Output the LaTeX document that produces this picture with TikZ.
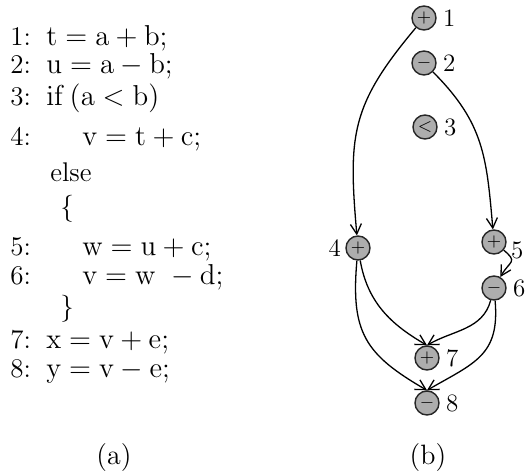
\documentclass[tikz,border=0pt]{standalone}
\usetikzlibrary{arrows.meta,positioning}

\begin{document}
\begin{tikzpicture}[x=0.5pt,y=0.5pt,
        code/.style={anchor=base west,inner sep=0pt,font=\fontsize{13.5}{16}\selectfont},
        op/.style={circle,draw=black!85,line width=0.7pt,fill=black!32,
          minimum size=12pt,inner sep=0pt,font=\small},
        num/.style={inner sep=0pt,font=\fontsize{12.5}{15}\selectfont},
        edge/.style={line width=0.65pt,-{Straight Barb[length=5pt,width=5.5pt]}}]
  \useasboundingbox (0,0) rectangle (525,-475);
  % (a) source code
  \node[code] (ln1) at (10,-46) {1:};   \node[code] (st1) at (46,-46) {$\mathrm{t=a+b;}$};
  \node[code] (ln2) at (10,-74) {2:};   \node[code] (st2) at (46,-74) {$\mathrm{u=a-b;}$};
  \node[code] (ln3) at (10,-106) {3:};  \node[code] (st3) at (46,-106) {$\mathrm{if}\,(\mathrm{a<b})$};
  \node[code] (ln4) at (10,-146) {4:};  \node[code] (st4) at (82,-146) {$\mathrm{v=t+c;}$};
  \node[code] (else) at (50,-182) {else};
  \node[code] (open) at (60,-216) {\{};
  \node[code] (ln5) at (10,-256) {5:};  \node[code] (st5) at (82,-256) {$\mathrm{w=u+c;}$};
  \node[code] (ln6) at (10,-285) {6:};  \node[code] (st6) at (82,-285) {$\mathrm{v=w\ -d;}$};
  \node[code] (close) at (60,-316) {\}};
  \node[code] (ln7) at (10,-349) {7:};  \node[code] (st7) at (46,-349) {$\mathrm{x=v+e;}$};
  \node[code] (ln8) at (10,-378) {8:};  \node[code] (st8) at (46,-378) {$\mathrm{y=v-e;}$};
  \node[font=\fontsize{14}{17}\selectfont] (capa) at (114,-458) {(a)};

  % (b) dependence graph
  \node[op] (n1) at (424,-18) {$+$};
  \node[op] (n2) at (424,-63) {$-$};
  \node[op] (n3) at (425,-127) {$<$};
  \node[op] (n4) at (358,-248) {$+$};
  \node[op] (n5) at (494,-242) {$+$};
  \node[op] (n6) at (494,-288) {$-$};
  \node[op] (n7) at (427,-358) {$+$};
  \node[op] (n8) at (427,-403) {$-$};
  \node[num,right=3pt of n1] (l1) {1};
  \node[num,right=3pt of n2] (l2) {2};
  \node[num,right=3pt of n3] (l3) {3};
  \node[num,left=2pt of n4] (l4) {4};
  \node[num,right=2pt of n5,yshift=-4pt] (l5) {5};
  \node[num,right=3pt of n6] (l6) {6};
  \node[num,right=3pt of n7] (l7) {7};
  \node[num,right=3pt of n8] (l8) {8};
  \node[font=\fontsize{14}{17}\selectfont] (capb) at (428,-458) {(b)};

  \draw[edge] (n1) to[out=-130,in=95,looseness=1.2] (n4);
  \draw[edge] (n2) to[out=-45,in=95,looseness=1.1] (n5);
  \draw[edge] (n5) to[out=-40,in=60,looseness=1.8] (n6);
  \draw[edge] (n4) to[out=-80,in=150] (n7.north);
  \draw[edge] (n4) to[out=-95,in=150,looseness=1.25] (n8.north);
  \draw[edge] (n6) to[out=-105,in=30] (n7.north);
  \draw[edge] (n6) to[out=-85,in=30,looseness=1.25] (n8.north);
\end{tikzpicture}
\end{document}
